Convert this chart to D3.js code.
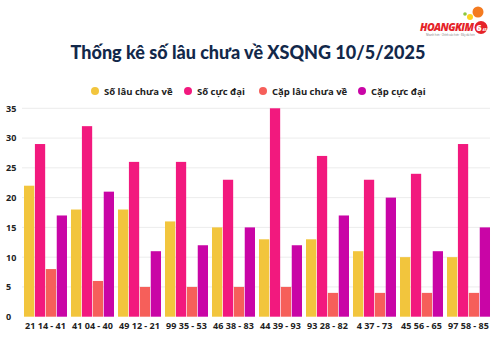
<!DOCTYPE html>
<html><head><meta charset="utf-8">
<script src="https://cdn.jsdelivr.net/npm/d3@7"></script>
<style>body{margin:0;background:#fff}svg{display:block}</style>
</head><body><svg id="c" width="495" height="345"></svg>
<script>
const categories = ["21 14 - 41","41 04 - 40","49 12 - 21","99 35 - 53","46 38 - 83","44 39 - 93","93 28 - 82","4 37 - 73","45 56 - 65","97 58 - 85"];
const seriesNames = ["Số lâu chưa về","Số cực đại","Cặp lâu chưa về","Cặp cực đại"];
const soLauChuaVe = [22,18,18,16,15,13,13,11,10,10];
const soCucDai = [29,32,26,26,23,35,27,23,24,29];
const capLauChuaVe = [8,6,5,5,5,5,4,4,4,4];
const capCucDai = [17,21,11,12,15,12,17,20,11,15];
const yTicks = [0,5,10,15,20,25,30,35];
const colors = ["#F2C53D","#F2197E","#F65F5A","#C905A6"];
const series = [soLauChuaVe, soCucDai, capLauChuaVe, capCucDai];

const svg = d3.select("#c");
const font = "'Open Sans', 'Noto Sans', sans-serif";

// logo
const logo = svg.append("g");
logo.append("circle").attr("cx",478).attr("cy",12).attr("r",5.5).attr("fill","#F47B20");
logo.append("circle").attr("cx",470).attr("cy",17).attr("r",3).attr("fill","#FFD21F");
logo.append("circle").attr("cx",465).attr("cy",14).attr("r",1.8).attr("fill","#8DC63F");
logo.append("circle").attr("cx",481).attr("cy",27.5).attr("r",6.5).attr("fill","#E52329");
logo.append("text").attr("x",479).attr("y",31).attr("text-anchor","middle").attr("fill","#fff")
  .attr("font-family",font).attr("font-weight",800).attr("font-size",9).text("6");
logo.append("text").attr("x",482.5).attr("y",31).attr("fill","#fff")
  .attr("font-family",font).attr("font-weight",700).attr("font-size",4).text("45");
logo.append("text").attr("x",420).attr("y",31).attr("fill","#E52329")
  .attr("font-family",font).attr("font-weight",800).attr("font-style","italic").attr("font-size",10.5).attr("textLength",54).text("HOANGKIM");
logo.append("text").attr("x",426).attr("y",35.5).attr("fill","#777")
  .attr("font-family",font).attr("font-size",2.6).text("Nhanh hơn · Chính xác hơn · Đầy đủ hơn");

// title
svg.append("text").attr("x",248).attr("y",58.5).attr("text-anchor","middle")
  .attr("fill","#12284A").attr("font-family","'Lato','Open Sans',sans-serif").attr("font-weight",900)
  .attr("font-size",18).text("Thống kê số lâu chưa về XSQNG 10/5/2025");

// legend
const legX = [95,188,263,362];
seriesNames.forEach((n,i)=>{
  const g = svg.append("g");
  g.append("circle").attr("cx",legX[i]).attr("cy",91).attr("r",4).attr("fill",colors[i]);
  g.append("text").attr("x",legX[i]+9).attr("y",94.5).attr("fill","#222")
   .attr("font-family",font).attr("font-weight",700).attr("font-size",9.5).text(n);
});

const y = d3.scaleLinear().domain([0,35]).range([316.7,108.3]);
const x0 = d3.scaleBand().domain(categories).range([22,492]).paddingInner(0.085).paddingOuter(0.0425);
const x1 = d3.scaleBand().domain(d3.range(4)).range([0,x0.bandwidth()]).paddingInner(0.06);

// grid
svg.append("g").selectAll("line").data(yTicks.filter(t=>t>0)).join("line")
  .attr("x1",22).attr("x2",490).attr("y1",d=>y(d)).attr("y2",d=>y(d))
  .attr("stroke","#ececec").attr("stroke-width",1);

const yAxis = svg.append("g").attr("transform","translate(22,0)")
  .call(d3.axisLeft(y).tickValues(yTicks).tickSize(0).tickPadding(7));
yAxis.select(".domain").remove();
yAxis.selectAll("text").attr("font-family",font).attr("font-weight",700).attr("font-size",9).attr("fill","#222").attr("text-anchor","start").attr("x",-16);

// bars
const groups = svg.append("g").selectAll("g").data(categories).join("g")
  .attr("transform",d=>`translate(${x0(d)},0)`);
groups.selectAll("rect").data((d,ci)=>series.map((s,si)=>({si,v:s[ci]}))).join("rect")
  .attr("x",d=>x1(d.si)).attr("width",x1.bandwidth())
  .attr("y",d=>y(d.v)).attr("height",d=>y(0)-y(d.v)).attr("fill",d=>colors[d.si]);

const xAxis = svg.append("g").attr("transform",`translate(0,${y(0)})`)
  .call(d3.axisBottom(x0).tickSize(0).tickPadding(6));
xAxis.select(".domain").remove();
xAxis.selectAll("text").attr("font-family",font).attr("font-weight",700).attr("font-size",9).attr("fill","#222");
</script></body></html>
